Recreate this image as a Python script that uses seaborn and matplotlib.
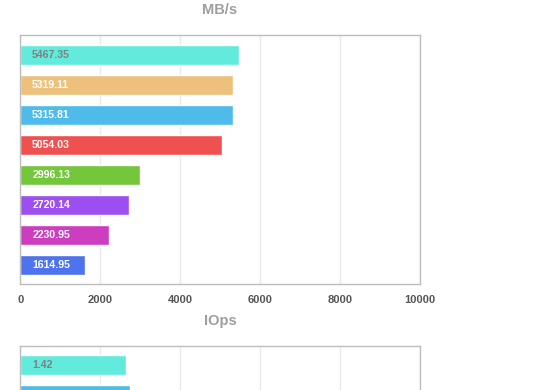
import numpy as np
import pandas as pd
import seaborn as sns
import matplotlib.pyplot as plt

sns.set_theme(style='white')
plt.rcParams['font.family'] = ['Liberation Sans', 'DejaVu Sans']

# values
mbps_values = [5467.35, 5319.11, 5315.81, 5054.03, 2996.13, 2720.14, 2230.95, 1614.95]
mbps_labels = ['5467.35', '5319.11', '5315.81', '5054.03', '2996.13', '2720.14', '2230.95', '1614.95']
mbps_colors = ['#62EADC', '#EDC07C', '#4FBBEA', '#EF5150',
               '#74C63A', '#9C4FEE', '#CC3DBF', '#4E73EE']
mbps_ticks = [0, 2000, 4000, 6000, 8000, 10000]

# only the first two IOps bars are visible, second label is cut off
iops_values = [1.42, 1.47]
iops_labels = ['1.42']
iops_colors = ['#62EADC', '#4FBBEA']
iops_max = 5.35


def draw_bars(ax, values, labels, colors, xmax):
    df = pd.DataFrame({'run': [str(i) for i in range(len(values))], 'value': values})
    sns.barplot(data=df, x='value', y='run', hue='run', palette=colors,
                legend=False, orient='h', width=0.667, saturation=1, ax=ax)
    for i, txt in enumerate(labels):
        ax.text(0.03, i, txt, transform=ax.get_yaxis_transform(), va='center', ha='left',
                fontsize=7.6, fontweight='bold',
                color='#808080' if i == 0 else 'white')
    ax.set_xlim(0, xmax)
    ax.set_ylim(7.65, -0.65)
    ax.set_yticks([])
    ax.set_xlabel('')
    ax.set_ylabel('')
    ax.grid(axis='x', color='#EAEAEA', lw=1)
    ax.set_axisbelow(True)
    for s in ax.spines.values():
        s.set_color('#BDBDBD')
        s.set_linewidth(1)


fig = plt.figure(figsize=(5.6, 3.9), dpi=100)
ax1 = fig.add_axes([0.036, 0.271, 0.7134, 0.6385])
ax2 = fig.add_axes([0.036, -0.525, 0.7134, 0.6385])

draw_bars(ax1, mbps_values, mbps_labels, mbps_colors, 10000)
ax1.set_xticks(mbps_ticks)
ax1.set_xticklabels([str(t) for t in mbps_ticks])
ax1.tick_params(axis='x', length=0, pad=8, labelsize=8, labelcolor='#555555')
for lbl in ax1.get_xticklabels():
    lbl.set_fontweight('bold')

draw_bars(ax2, iops_values, iops_labels, iops_colors, iops_max)
ax2.set_xticks(np.linspace(0, iops_max, 6))
ax2.set_xticklabels([])
ax2.tick_params(axis='x', length=0)

fig.text(220 / 560, 1 - 10.5 / 390, 'MB/s', ha='center', va='center',
         fontsize=10.5, fontweight='bold', color='#9E9E9E')
fig.text(220 / 560, 1 - 321 / 390, 'IOps', ha='center', va='center',
         fontsize=10.5, fontweight='bold', color='#9E9E9E')

fig.savefig('out.png', dpi=100)
